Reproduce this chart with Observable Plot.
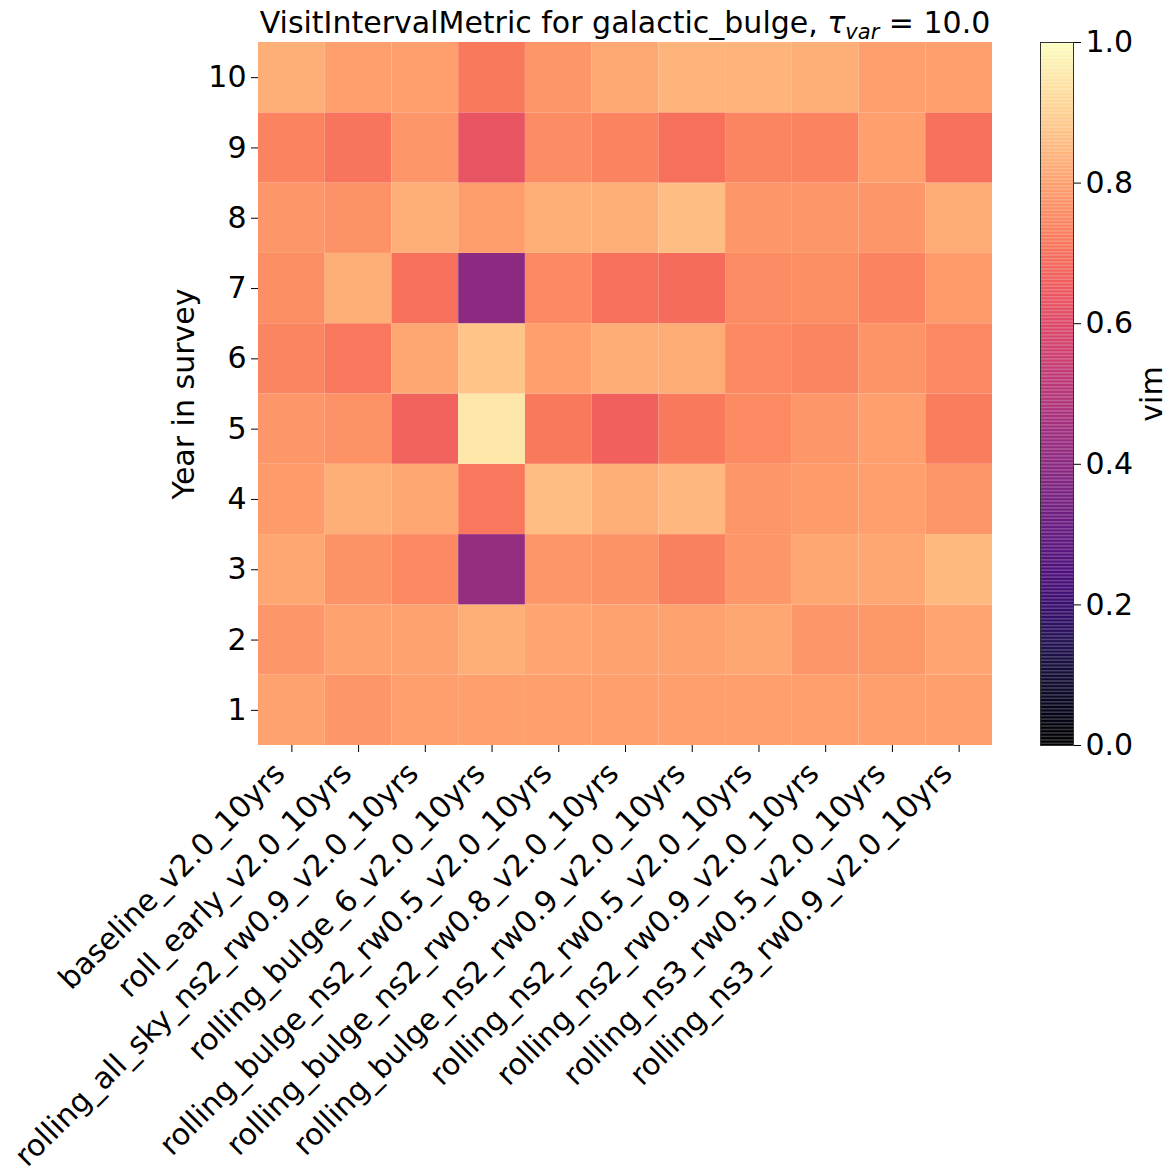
<!DOCTYPE html>
<html><head><meta charset="utf-8">
<script src="https://cdn.jsdelivr.net/npm/d3@7"></script>
<script src="https://cdn.jsdelivr.net/npm/@observablehq/plot@0.6"></script>
<style>
body{margin:0;background:#fff;}
#wrap{position:relative;width:1172px;height:1173px;font-family:"DejaVu Sans",sans-serif;}
#wrap svg{position:absolute;top:0;}
</style>
</head><body>
<div id="wrap"></div>
<script>
const runs = [
  "baseline_v2.0_10yrs",
  "roll_early_v2.0_10yrs",
  "rolling_all_sky_ns2_rw0.9_v2.0_10yrs",
  "rolling_bulge_6_v2.0_10yrs",
  "rolling_bulge_ns2_rw0.5_v2.0_10yrs",
  "rolling_bulge_ns2_rw0.8_v2.0_10yrs",
  "rolling_bulge_ns2_rw0.9_v2.0_10yrs",
  "rolling_ns2_rw0.5_v2.0_10yrs",
  "rolling_ns2_rw0.9_v2.0_10yrs",
  "rolling_ns3_rw0.5_v2.0_10yrs",
  "rolling_ns3_rw0.9_v2.0_10yrs"
];
const years = [1,2,3,4,5,6,7,8,9,10];
// vim values: one row per year (1..10), one column per run
const vimYear1  = [0.805,0.78,0.80,0.80,0.80,0.80,0.80,0.80,0.80,0.80,0.80];
const vimYear2  = [0.78,0.805,0.805,0.83,0.81,0.805,0.805,0.815,0.78,0.785,0.81];
const vimYear3  = [0.815,0.77,0.75,0.42,0.78,0.77,0.735,0.78,0.815,0.815,0.855];
const vimYear4  = [0.79,0.83,0.815,0.715,0.86,0.83,0.85,0.78,0.79,0.80,0.78];
const vimYear5  = [0.78,0.77,0.67,0.95,0.72,0.665,0.72,0.755,0.78,0.80,0.73];
const vimYear6  = [0.745,0.715,0.815,0.875,0.80,0.825,0.825,0.75,0.745,0.775,0.75];
const vimYear7  = [0.765,0.83,0.70,0.40,0.75,0.70,0.69,0.76,0.765,0.74,0.79];
const vimYear8  = [0.78,0.77,0.83,0.795,0.83,0.83,0.86,0.78,0.78,0.78,0.825];
const vimYear9  = [0.74,0.71,0.78,0.635,0.76,0.74,0.70,0.745,0.74,0.80,0.70];
const vimYear10 = [0.83,0.80,0.80,0.72,0.78,0.82,0.84,0.84,0.83,0.80,0.80];
const vimRows = [vimYear1,vimYear2,vimYear3,vimYear4,vimYear5,vimYear6,vimYear7,vimYear8,vimYear9,vimYear10];
const colorTicks = [0,0.2,0.4,0.6,0.8,1.0];

const cells = [];
years.forEach((y,i)=>runs.forEach((r,j)=>cells.push({run:r, year:y, vim:vimRows[i][j]})));

const FS = 30;
const color = {type:"linear", scheme:"magma", domain:[0,1]};

const main = Plot.plot({
  width:1172, height:1173,
  marginLeft:258, marginRight:180, marginTop:42, marginBottom:428,
  style:{fontFamily:"DejaVu Sans, sans-serif", fontSize:FS+"px", background:"white", color:"black"},
  x:{domain:runs, padding:0, round:false, label:null},
  y:{domain:years.slice().reverse(), padding:0, round:false},
  color,
  marks:[
    Plot.cell(cells,{x:"run", y:"year", fill:"vim", inset:0}),
    // tick lines only
    Plot.axisX({tickSize:7, tickFormat:()=>"", label:null}),
    // rotated labels, shifted along their baseline like matplotlib's ha="right"
    Plot.axisX({tickRotate:-45, tickSize:0, tickPadding:11, dx:-12, dy:12, fontSize:FS, label:null}),
    Plot.axisY({tickSize:7, tickPadding:5, fontSize:FS, label:"Year in survey", labelAnchor:"center", labelOffset:86, labelArrow:"none"})
  ]
});

const steps = d3.range(0,1,0.002);
const bar = Plot.plot({
  width:132, height:1173,
  marginLeft:0, marginRight:99, marginTop:42, marginBottom:428,
  style:{fontFamily:"DejaVu Sans, sans-serif", fontSize:FS+"px", background:"transparent", color:"black"},
  x:{domain:[0,1], axis:null},
  y:{domain:[0,1]},
  color,
  marks:[
    Plot.rect(steps,{x1:0, x2:1, y1:d=>d, y2:d=>d+0.0021, fill:d=>d+0.001}),
    Plot.frame({stroke:"#333", strokeWidth:1}),
    Plot.axisY({anchor:"right", ticks:colorTicks, tickFormat:d3.format(".1f"), tickSize:7, tickPadding:5, fontSize:FS, label:"vim", labelAnchor:"center", labelOffset:88, labelArrow:"none"})
  ]
});

const wrap = document.getElementById("wrap");
main.style.left = "0px";
bar.style.left = "1040px";
wrap.appendChild(main);
wrap.appendChild(bar);

// title with italic tau and subscript
const svg = d3.select(main);
const t = svg.append("text")
  .attr("x", (258+992)/2).attr("y", 33)
  .attr("text-anchor","middle")
  .style("font-family","DejaVu Sans, sans-serif")
  .style("font-size", "30px")
  .attr("fill","black");
t.append("tspan").text("VisitIntervalMetric for galactic_bulge, ");
t.append("tspan").style("font-style","italic").text("τ");
t.append("tspan").style("font-style","italic").style("font-size","21px").attr("dy",6).text("var");
t.append("tspan").attr("dy",-6).text(" = 10.0");
</script>
</body></html>
